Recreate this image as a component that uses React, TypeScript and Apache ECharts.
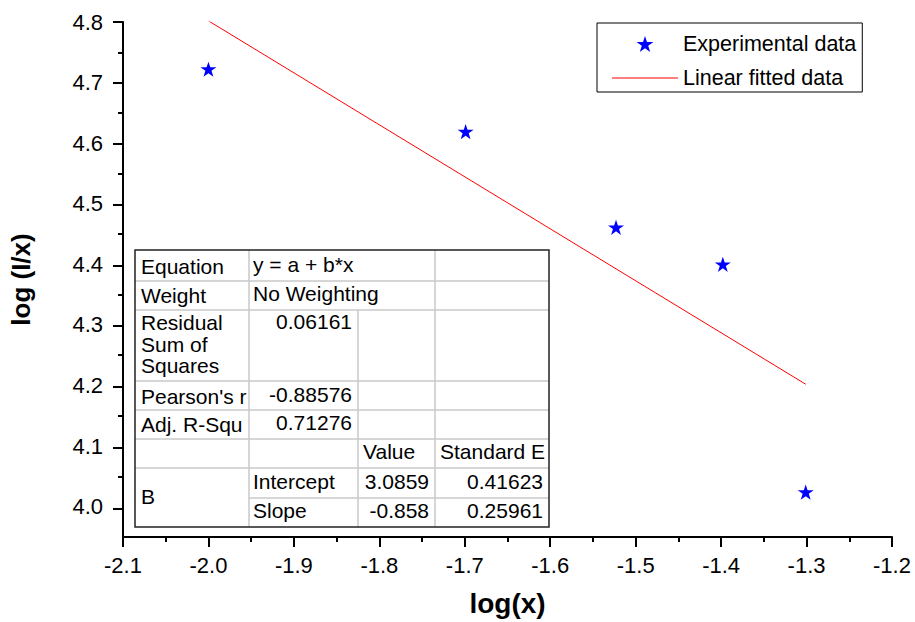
import React, { useEffect, useRef } from 'react';
import * as echarts from 'echarts';

// ---- data ----
const logX = [-2.0, -1.699, -1.523, -1.398, -1.301];
const logIx = [4.722, 4.619, 4.461, 4.4, 4.024];
const fitIntercept = 3.0859;
const fitSlope = -0.858;
const fitXRange = [-2.0, -1.301];
const yMajorTicks = [4.0, 4.1, 4.2, 4.3, 4.4, 4.5, 4.6, 4.7, 4.8];
const yMinorTicks = [4.05, 4.15, 4.25, 4.35, 4.45, 4.55, 4.65, 4.75];
const seriesNames = ['Experimental data', 'Linear fitted data'];

// table texts
const statLabels = ['Equation', 'Weight', 'Residual\nSum of\nSquares', "Pearson's r", 'Adj. R-Squ'];
const statValues = ['y = a + b*x', 'No Weighting', '0.06161', '-0.88576', '0.71276'];
const paramHeaders = ['Value', 'Standard E'];
const paramGroup = 'B';
const paramNames = ['Intercept', 'Slope'];
const paramValues = ['3.0859', '-0.858'];
const paramErrors = ['0.41623', '0.25961'];

const STAR = 'path://M50,0 L61.8,35.4 L100,35.4 L69.1,57.3 L80.9,95.1 L50,72.4 L19.1,95.1 L30.9,57.3 L0,35.4 L38.2,35.4 Z';
const LINE_ICON = 'path://M0,0 L200,0 L200,3 L0,3 Z';
const FONT = '"Liberation Sans", Arial, sans-serif';

// layout
const Y_MIN = 3.95;
const Y_MAX = 4.8;
const GRID = { left: 123, right: 23, top: 22, bottom: 83 };
const PLOT_H = 622 - GRID.top - GRID.bottom;

// table layout
const colX = [135, 249, 358, 435, 549];
const rowY = [250, 281, 310, 381, 410, 439, 468, 498, 527];
const TFS = 21;

function buildTable() {
  const els: any[] = [];
  const W = colX[4] - colX[0];
  const H = rowY[8] - rowY[0];
  els.push({ type: 'rect', shape: { x: colX[0], y: rowY[0], width: W, height: H }, style: { fill: '#fff', stroke: 'none' }, z: 10 });
  for (let i = 1; i < 8; i++) {
    els.push({ type: 'line', shape: { x1: i === 7 ? colX[1] : colX[0], y1: rowY[i], x2: colX[4], y2: rowY[i] }, style: { stroke: '#c8c8c8', lineWidth: 1.5 }, z: 11 });
  }
  els.push({ type: 'line', shape: { x1: colX[1], y1: rowY[0], x2: colX[1], y2: rowY[8] }, style: { stroke: '#c8c8c8', lineWidth: 1.5 }, z: 11 });
  els.push({ type: 'line', shape: { x1: colX[2], y1: rowY[2], x2: colX[2], y2: rowY[8] }, style: { stroke: '#c8c8c8', lineWidth: 1.5 }, z: 11 });
  els.push({ type: 'line', shape: { x1: colX[3], y1: rowY[0], x2: colX[3], y2: rowY[8] }, style: { stroke: '#c8c8c8', lineWidth: 1.5 }, z: 11 });
  els.push({ type: 'rect', shape: { x: colX[0], y: rowY[0], width: W, height: H }, style: { fill: 'none', stroke: '#222', lineWidth: 1.5 }, z: 12 });

  const txt = (text: string, x: number, y: number, align: string, extra: any = {}) => ({
    type: 'text', x, y, z: 13,
    style: { text, fontSize: TFS, fontFamily: FONT, fill: '#000', align, verticalAlign: 'middle', ...extra },
  });
  const leftL = colX[0] + 6;
  const leftV = colX[1] + 4;
  const rightV = colX[2] - 6;
  els.push(txt(statLabels[0], leftL, 266, 'left'));
  els.push(txt(statValues[0], leftV, 264, 'left'));
  els.push(txt(statLabels[1], leftL, 295, 'left'));
  els.push(txt(statValues[1], leftV, 293, 'left'));
  els.push(txt(statLabels[2], leftL, 344, 'left', { lineHeight: 21.5 }));
  els.push(txt(statValues[2], rightV, 321, 'right'));
  els.push(txt(statLabels[3], leftL, 396, 'left'));
  els.push(txt(statValues[3], rightV, 394, 'right'));
  els.push(txt(statLabels[4], leftL, 424, 'left'));
  els.push(txt(statValues[4], rightV, 422, 'right'));
  els.push(txt(paramHeaders[0], colX[2] + 5, 451, 'left'));
  els.push(txt(paramHeaders[1], colX[3] + 5, 451, 'left'));
  els.push(txt(paramGroup, leftL, 496, 'left'));
  const pr = [481, 510];
  for (let i = 0; i < 2; i++) {
    els.push(txt(paramNames[i], leftV, pr[i], 'left'));
    els.push(txt(paramValues[i], colX[3] - 6, pr[i], 'right'));
    els.push(txt(paramErrors[i], colX[4] - 6, pr[i], 'right'));
  }
  return els;
}

export default function App() {
  const ref = useRef<HTMLDivElement>(null);
  useEffect(() => {
    if (!ref.current) return;
    const chart = echarts.init(ref.current, null, { renderer: 'svg' });
    const fitY = fitXRange.map((x) => fitIntercept + fitSlope * x);
    const tickLine = { color: '#000', width: 2 };
    // second grid whose y range is [first major tick, max] so that ticks start on 4.0
    const majMin = yMajorTicks[0];
    const majBottom = GRID.bottom + ((majMin - Y_MIN) / (Y_MAX - Y_MIN)) * PLOT_H;
    chart.setOption({
      animation: false,
      backgroundColor: '#fff',
      textStyle: { fontFamily: FONT },
      grid: [
        { ...GRID, containLabel: false },
        { left: GRID.left, right: GRID.right, top: GRID.top, bottom: majBottom, containLabel: false },
      ],
      legend: {
        orient: 'vertical',
        left: 597,
        top: 23,
        padding: [10, 6, 3, 15],
        borderColor: '#000',
        borderWidth: 1,
        itemWidth: 66,
        itemHeight: 16,
        itemGap: 12,
        symbolKeepAspect: true,
        textStyle: { fontSize: 21.5, color: '#000', fontFamily: FONT, lineHeight: 22 },
        data: [
          { name: seriesNames[0], icon: STAR, itemStyle: { color: '#0000ff', opacity: 1 } },
          { name: seriesNames[1], icon: LINE_ICON, itemStyle: { color: '#ff0000', opacity: 1 } },
        ],
      },
      xAxis: [
        {
          type: 'value',
          gridIndex: 0,
          min: -2.1,
          max: -1.2,
          interval: 0.1,
          name: 'log(x)',
          nameLocation: 'middle',
          nameGap: 52,
          nameTextStyle: { fontSize: 28, fontWeight: 'bold', color: '#000', fontFamily: FONT },
          axisLine: { show: true, lineStyle: { color: '#000', width: 2 } },
          splitLine: { show: false },
          axisTick: { show: true, length: 10, lineStyle: tickLine },
          minorTick: { show: true, splitNumber: 2, length: 5, lineStyle: tickLine },
          axisLabel: { fontSize: 22, color: '#000', margin: 17, fontFamily: FONT, formatter: (v: number) => v.toFixed(1) },
        },
        { type: 'value', gridIndex: 1, min: -2.1, max: -1.2, show: false },
      ],
      yAxis: [
        {
          type: 'value',
          gridIndex: 0,
          min: Y_MIN,
          max: Y_MAX,
          name: 'log (I/x)',
          nameLocation: 'middle',
          nameGap: 89,
          nameTextStyle: { fontSize: 26, fontWeight: 'bold', color: '#000', fontFamily: FONT },
          axisLine: { show: true, lineStyle: { color: '#000', width: 2 } },
          splitLine: { show: false },
          axisTick: { show: true, length: 5, customValues: yMinorTicks, lineStyle: tickLine },
          axisLabel: { fontSize: 22, color: '#000', margin: 20, fontFamily: FONT, customValues: yMajorTicks, formatter: (v: number) => v.toFixed(1) },
        },
        {
          type: 'value',
          gridIndex: 1,
          min: majMin,
          max: Y_MAX,
          interval: 0.1,
          position: 'left',
          axisLine: { show: false },
          splitLine: { show: false },
          axisTick: { show: true, length: 10, lineStyle: tickLine },
          axisLabel: { show: false },
        },
      ],
      series: [
        {
          name: seriesNames[0],
          type: 'scatter',
          symbol: STAR,
          symbolSize: 16,
          symbolKeepAspect: true,
          itemStyle: { color: '#0000ff', opacity: 1 },
          data: logX.map((x, i) => [x, logIx[i]]),
          z: 5,
        },
        {
          name: seriesNames[1],
          type: 'line',
          symbol: 'none',
          lineStyle: { color: '#ff0000', width: 1 },
          itemStyle: { color: '#ff0000' },
          data: fitXRange.map((x, i) => [x, fitY[i]]),
          z: 4,
        },
      ],
      graphic: buildTable(),
    });
    return () => chart.dispose();
  }, []);
  return <div ref={ref} style={{ position: 'fixed', left: 0, top: 0, width: 915, height: 622 }} />;
}
